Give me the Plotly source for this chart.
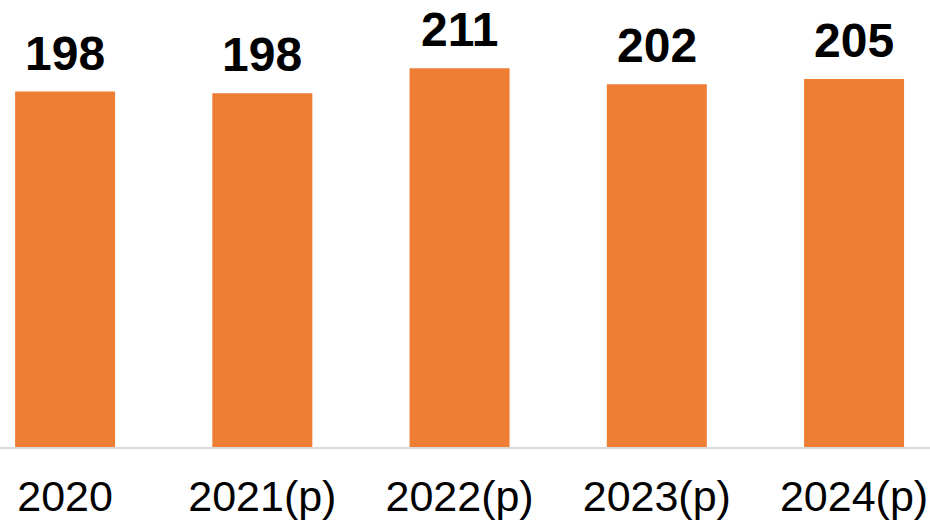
import plotly.graph_objects as go

categories = ["2020", "2021(p)", "2022(p)", "2023(p)", "2024(p)"]
values = [198, 197, 211, 202, 205]
labels = ["198", "198", "211", "202", "205"]

fig = go.Figure()
fig.add_trace(go.Bar(
    x=categories,
    y=values,
    marker=dict(color="#EF7E35", line=dict(width=0)),
    width=0.507,
    cliponaxis=False,
))

for i, (v, t) in enumerate(zip(values, labels)):
    fig.add_annotation(
        x=i, y=v, text=t, showarrow=False,
        xref="x", yref="y",
        xanchor="center", yanchor="bottom", yshift=10,
        font=dict(family="Liberation Sans, Arial, sans-serif", size=48, color="#000000", weight="bold"),
    )

fig.update_layout(
    width=930,
    height=520,
    margin=dict(l=0, r=0, t=0, b=73, autoexpand=False),
    paper_bgcolor="white",
    plot_bgcolor="white",
    showlegend=False,
    xaxis=dict(
        type="category",
        range=[-0.33, 4.385],
        automargin=False,
        showgrid=False,
        showline=True,
        linecolor="#D9D9D9",
        linewidth=2,
        ticks="",
        tickfont=dict(family="Liberation Sans, Arial, sans-serif", size=43, color="#000000"),
        ticklabelstandoff=10,
    ),
    yaxis=dict(
        range=[0, 249],
        automargin=False,
        showgrid=False,
        showticklabels=False,
        zeroline=False,
        showline=False,
        ticks="",
    ),
)

fig.write_html(
    "out.html",
    config={"displayModeBar": False},
    post_script="document.body.style.margin='0';document.body.style.overflow='hidden';",
)
